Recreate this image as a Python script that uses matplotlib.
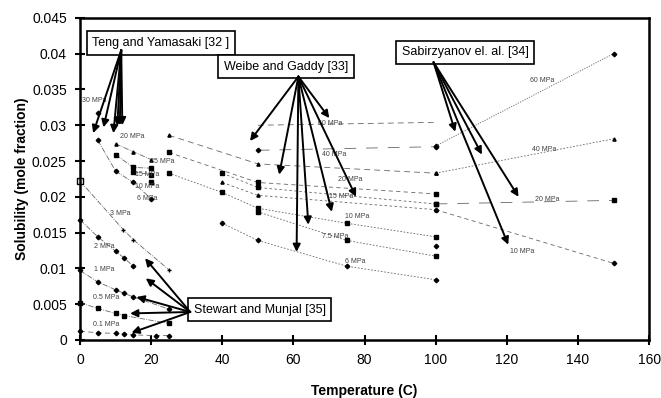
import matplotlib
matplotlib.use("Agg")
import matplotlib.pyplot as plt
from matplotlib.ticker import FuncFormatter

plt.rcParams["font.family"] = ["Liberation Sans", "DejaVu Sans"]

# Teng and Yamasaki [32]
teng_T_30 = [5]
teng_y_30 = [0.0317]
teng_T_25 = [10, 15, 20]
teng_y_25 = [0.0274, 0.0263, 0.0252]
teng_T_20 = [10, 15, 20]
teng_y_20 = [0.0259, 0.0241, 0.0240]
teng_T_15 = [15, 20]
teng_y_15 = [0.0235, 0.0231]
teng_T_10 = [20]
teng_y_10 = [0.0220]
teng_T_6 = [5, 10, 15, 20]
teng_y_6 = [0.0279, 0.0236, 0.0220, 0.0197]

# Stewart and Munjal [35]
sm_T_3 = [0, 12.2, 15, 25]
sm_y_3 = [0.0222, 0.0154, 0.0140, 0.0098]
sm_T_2 = [0, 5, 10, 12.5, 15]
sm_y_2 = [0.0168, 0.0144, 0.0124, 0.0114, 0.0103]
sm_T_1 = [0, 5, 10, 12.5, 15, 25]
sm_y_1 = [0.0097, 0.0081, 0.0070, 0.0065, 0.0060, 0.0043]
sm_T_05 = [0, 5, 10, 12.5, 25]
sm_y_05 = [0.0052, 0.0044, 0.0037, 0.0034, 0.0023]
sm_T_01 = [0, 5, 10, 12.5, 15, 21.5, 25]
sm_y_01 = [0.0012, 0.0010, 0.0009, 0.0008, 0.0007, 0.0006, 0.0006]

# Weibe and Gaddy [33]
wg_T_60 = [50, 100]
wg_y_60 = [0.0300, 0.0304]
wg_T_40 = [50, 100]
wg_y_40 = [0.0265, 0.0270]
wg_T_20 = [25, 50, 100]
wg_y_20 = [0.0286, 0.0246, 0.0233]
wg_T_15a = [25, 50, 100]
wg_y_15a = [0.0262, 0.0220, 0.0204]
wg_T_15b = [40, 50, 100]
wg_y_15b = [0.0233, 0.0213, 0.0190]
wg_T_12 = [40, 50, 100]
wg_y_12 = [0.0220, 0.0202, 0.0182]
wg_T_10 = [25, 40, 50, 75, 100]
wg_y_10 = [0.0233, 0.0206, 0.0184, 0.0163, 0.0144]
wg_T_75 = [50, 75, 100]
wg_y_75 = [0.0179, 0.0139, 0.0117]
wg_T_8 = [100]
wg_y_8 = [0.0131]
wg_T_6 = [40, 50, 75, 100]
wg_y_6 = [0.0163, 0.0139, 0.0103, 0.0084]

# Sabirzyanov et al. [34]
sab_T = [100, 150]
sab_y_60 = [0.0271, 0.0400]
sab_y_40 = [0.0233, 0.0281]
sab_y_20 = [0.0190, 0.0195]
sab_y_10 = [0.0182, 0.0107]

fig = plt.figure(figsize=(6.61, 3.98), dpi=100)
ax = fig.add_axes([0.121, 0.146, 0.861, 0.809])

thin = dict(color="0.4", lw=0.6, ms=2.3, mfc="black", mec="black",
            clip_on=False)

ax.plot(teng_T_30, teng_y_30, "D", **thin)
ax.plot(teng_T_25, teng_y_25, marker="^", ls="-.", **thin)
ax.plot(teng_T_20, teng_y_20, marker="s", ls="-.", **thin)
ax.plot(teng_T_15, teng_y_15, marker="s", ls="-.", **thin)
ax.plot(teng_T_10, teng_y_10, marker="s", ls="-.", **thin)
ax.plot(teng_T_6, teng_y_6, marker="D", ls="-.", **thin)

ax.plot(sm_T_3, sm_y_3, marker="+", ls="-.", **thin)
ax.plot(sm_T_3[:1], sm_y_3[:1], "s", color="black", ms=5, mfc="white",
        clip_on=False)
ax.plot(sm_T_2, sm_y_2, marker="D", ls="-.", **thin)
ax.plot(sm_T_1, sm_y_1, marker="D", ls="-.", **thin)
ax.plot(sm_T_05, sm_y_05, marker="s", ls="-.", **thin)
ax.plot(sm_T_01, sm_y_01, marker="D", ls=(0, (6, 4)), **thin)

ax.plot(wg_T_60, wg_y_60, marker="", ls=(0, (7, 5)), **thin)
ax.plot(wg_T_40, wg_y_40, marker="D", ls=(0, (14, 12)), **thin)
ax.plot(wg_T_20, wg_y_20, marker="^", ls=(0, (7, 5)), **thin)
ax.plot(wg_T_15a, wg_y_15a, marker="s", ls=(0, (5, 4)), **thin)
ax.plot(wg_T_15b, wg_y_15b, marker="s", ls=(0, (3, 3)), **thin)
ax.plot(wg_T_12, wg_y_12, marker="^", ls=(0, (3, 3)), **thin)
ax.plot(wg_T_10, wg_y_10, marker="s", ls=(0, (2, 2)), **thin)
ax.plot(wg_T_75, wg_y_75, marker="s", ls=(0, (2, 2)), **thin)
ax.plot(wg_T_8, wg_y_8, "D", **thin)
ax.plot(wg_T_6, wg_y_6, marker="D", ls=(0, (2, 2)), **thin)

ax.plot(sab_T, sab_y_60, marker="D", ls=(0, (1.5, 1.5)), **thin)
ax.plot(sab_T, sab_y_40, marker="^", ls=(0, (2, 2)), **thin)
ax.plot(sab_T, sab_y_20, marker="s", ls=(0, (14, 12)), **thin)
ax.plot(sab_T, sab_y_10, marker="D", ls=(0, (5, 4)), **thin)

# pressure labels
small = dict(fontsize=5, color="0.25")
labels = [
    (0.5, 0.0335, "30 MPa"), (11.2, 0.0284, "20 MPa"), (19.7, 0.0249, "25 MPa"),
    (15.5, 0.0231, "15 MPa"), (15.5, 0.0214, "10 MPa"), (16, 0.0197, "6 MPa"),
    (8.4, 0.0177, "3 MPa"), (4, 0.0131, "2 MPa"), (4, 0.0098, "1 MPa"),
    (3.6, 0.0059, "0.5 MPa"), (3.6, 0.0022, "0.1 MPa"),
    (67, 0.0303, "60 MPa"), (68, 0.0259, "40 MPa"), (72.5, 0.0224, "20 MPa"),
    (70, 0.0200, "15 MPa"), (74.5, 0.0173, "10 MPa"), (68, 0.0145, "7.5 MPa"),
    (74.5, 0.0109, "6 MPa"),
    (126.5, 0.0363, "60 MPa"), (127, 0.0266, "40 MPa"), (128, 0.0196, "20 MPa"),
    (121, 0.0123, "10 MPa"),
]
for x, y, s in labels:
    ax.text(x, y, s, va="center", **small)

# reference boxes with arrows
box = dict(boxstyle="square,pad=0.45", fc="white", ec="black", lw=1.2)
arrow = dict(arrowstyle="-|>", color="black", lw=1.4, mutation_scale=11,
             shrinkA=0, shrinkB=0)

ax.text(3.5, 0.0415, "Teng and Yamasaki [32 ]", fontsize=9, va="center", bbox=box)
for hx, hy in [(3.7, 0.0289), (6.6, 0.0297), (9.4, 0.0289), (10.5, 0.0299),
               (11.2, 0.0300), (11.9, 0.0300)]:
    ax.annotate("", xy=(hx, hy), xytext=(11.6, 0.0405), arrowprops=arrow)

ax.text(40.5, 0.0382, "Weibe and Gaddy [33]", fontsize=9, va="center", bbox=box)
for hx, hy in [(47.8, 0.0278), (56, 0.0231), (70.1, 0.0310), (77.6, 0.0200),
               (70.8, 0.0179), (64.2, 0.0161), (60.9, 0.0123)]:
    ax.annotate("", xy=(hx, hy), xytext=(61.4, 0.0368), arrowprops=arrow)

ax.text(90.5, 0.0402, "Sabirzyanov el. al. [34]", fontsize=9, va="center", bbox=box)
for hx, hy in [(105.5, 0.0291), (113, 0.0259), (123.3, 0.0200), (120.4, 0.0133)]:
    ax.annotate("", xy=(hx, hy), xytext=(99.4, 0.0388), arrowprops=arrow)

ax.text(32, 0.0042, "Stewart and Munjal [35]", fontsize=9, va="center", bbox=box)
for hx, hy in [(18.3, 0.0114), (18.5, 0.0086), (15.9, 0.0060), (14.1, 0.0037),
               (14.5, 0.0010)]:
    ax.annotate("", xy=(hx, hy), xytext=(31, 0.0039), arrowprops=arrow)

ax.set_xlim(0, 160)
ax.set_ylim(0, 0.045)
ax.set_xticks(range(0, 161, 20))
ax.set_yticks([i * 0.005 for i in range(10)])
ax.yaxis.set_major_formatter(FuncFormatter(lambda v, p: "%g" % round(v, 3)))
ax.tick_params(direction="inout", length=7, width=1.5, labelsize=10, pad=6)
for s in ax.spines.values():
    s.set_linewidth(1.8)

ax.set_xlabel("Temperature (C)", fontsize=10, fontweight="bold", labelpad=12)
ax.set_ylabel("Solubility (mole fraction)", fontsize=10, fontweight="bold",
              labelpad=2)

fig.savefig("out.png", dpi=100)
